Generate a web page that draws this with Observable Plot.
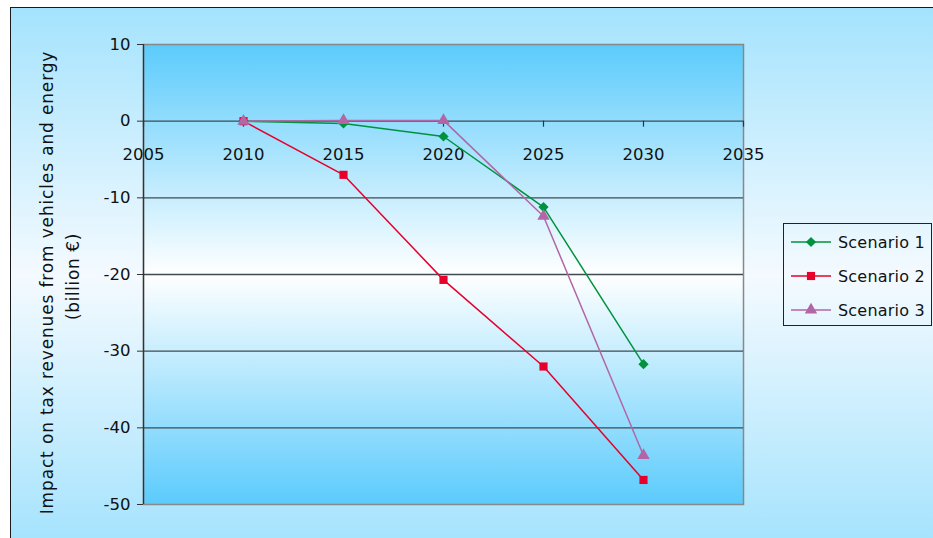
<!DOCTYPE html>
<html><head><meta charset="utf-8">
<script src="https://cdn.jsdelivr.net/npm/d3@7"></script>
<script src="https://cdn.jsdelivr.net/npm/@observablehq/plot@0.6"></script>
<style>
html,body{margin:0;padding:0;width:933px;height:538px;overflow:hidden;background:#fff;font-family:"DejaVu Sans",sans-serif;}
#box{position:absolute;left:10px;top:7px;width:940px;height:536px;border:1.5px solid #1a1a1a;background:linear-gradient(#a4e3fd,#f4faff 50%,#a4e3fd);}
#chart{position:absolute;left:0;top:0;}
#legend{position:absolute;left:783px;top:223px;width:149px;height:103px;border:1.2px solid #222;box-sizing:border-box;}
.row{position:absolute;left:0;height:20px;display:flex;align-items:center;}
.row span{font-size:16px;color:#111;margin-left:6px;letter-spacing:0.2px;}
</style></head>
<body>
<div id="box"></div>
<div id="chart"></div>
<div id="legend"></div>
<script>
const years = [2010, 2015, 2020, 2025, 2030];
const seriesNames = ["Scenario 1", "Scenario 2", "Scenario 3"];
const scenario1 = [0, -0.3, -2.0, -11.2, -31.7];
const scenario2 = [0, -7.0, -20.7, -32.0, -46.8];
const scenario3 = [0, 0.1, 0.1, -12.4, -43.6];
const xTicks = [2005, 2010, 2015, 2020, 2025, 2030, 2035];
const yTicks = [10, 0, -10, -20, -30, -40, -50];
const gridTicks = [0, -10, -20, -30, -40];
const colors = ["#00923e", "#e6002b", "#b266a6"];
const symbols = ["diamond2", "square", "triangle"];
const yTitle1 = "Impact on tax revenues from vehicles and energy";
const yTitle2 = "(billion €)";

const seriesValues = [scenario1, scenario2, scenario3];
const data = [];
seriesNames.forEach((s, k) => years.forEach((yr, i) => data.push({series: s, year: yr, value: seriesValues[k][i]})));

const svg = Plot.plot({
  width: 933, height: 538,
  marginLeft: 143, marginRight: 190, marginTop: 44, marginBottom: 34,
  style: {background: "none", fontFamily: "DejaVu Sans", fontSize: "16px", color: "#111"},
  x: {domain: [2005, 2035], axis: null},
  y: {domain: [-50, 10], axis: null},
  color: {domain: seriesNames, range: colors},
  symbol: {domain: seriesNames, range: symbols},
  marks: [
    Plot.frame({fill: "url(#plotGrad)", stroke: "#888", strokeWidth: 1.5}),
    Plot.ruleY(gridTicks, {stroke: "#3f4a52", strokeWidth: 1.3}),
    Plot.ruleX([2005], {stroke: "#333", strokeWidth: 1.3}),
    Plot.axisY(yTicks, {label: null, tickSize: 6, tickPadding: 7, tickFormat: d => String(d), fontSize: 16.5, stroke: "#333"}),
    Plot.ruleX(xTicks, {x: d => d, y1: 0, y2: 0, insetBottom: -6, stroke: "#333", strokeWidth: 1.2}),
    Plot.text(xTicks, {x: d => d, y: 0, dy: 34, text: d => String(d), fontSize: 16.5, fill: "#111"}),
    Plot.text([yTitle1], {frameAnchor: "left", textAnchor: "middle", rotate: -90, dx: -96, dy: 8, fontSize: 17, fill: "#111"}),
    Plot.text([yTitle2], {frameAnchor: "left", textAnchor: "middle", rotate: -90, dx: -70, dy: 2, fontSize: 17, fill: "#111"}),
    Plot.line(data, {x: "year", y: "value", z: "series", stroke: "series", strokeWidth: 1.5}),
    Plot.dot(data, {x: "year", y: "value", symbol: "series", fill: "series", stroke: "none", r: 4.6})
  ]
});
d3.select(svg).insert("defs", ":first-child").html(
  '<linearGradient id="plotGrad" x1="0" y1="0" x2="0" y2="1">' +
  '<stop offset="0" stop-color="#5bcbfc"/><stop offset="0.5" stop-color="#ffffff"/><stop offset="1" stop-color="#5bcbfc"/>' +
  '</linearGradient>');
d3.select(svg).selectAll("text").each(function() {
  const t = this.textContent;
  if (t === yTitle1) this.style.letterSpacing = "0.85px";
  else if (t === yTitle2) this.style.letterSpacing = "0.6px";
});
document.getElementById("chart").appendChild(svg);

// legend
const legend = d3.select("#legend");
seriesNames.forEach((s, k) => {
  const row = legend.append("div").attr("class", "row").style("top", (8 + k * 34) + "px").style("left", "6px");
  const sv = row.append("svg").attr("width", 42).attr("height", 20);
  sv.append("line").attr("x1", 1).attr("x2", 41).attr("y1", 10).attr("y2", 10).attr("stroke", colors[k]).attr("stroke-width", 1.5);
  const type = [d3.symbolDiamond2, d3.symbolSquare, d3.symbolTriangle][k];
  sv.append("path").attr("transform", "translate(21,10)").attr("d", d3.symbol(type, Math.PI * 4.6 * 4.6)()).attr("fill", colors[k]);
  row.append("span").text(s);
});
</script>
</body></html>
